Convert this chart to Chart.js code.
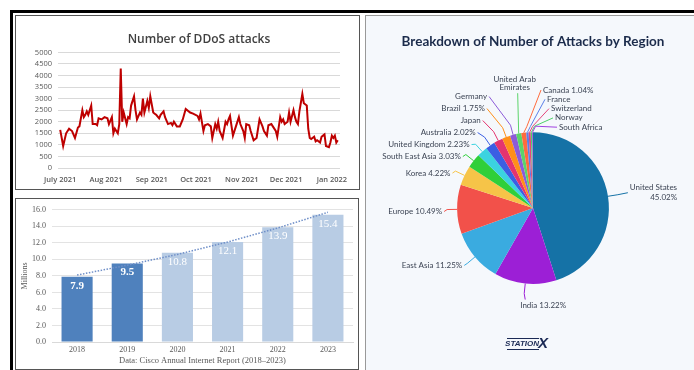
<!DOCTYPE html>
<html>
<head>
<meta charset="utf-8">
<script src="https://cdn.jsdelivr.net/npm/chart.js@4"></script>
<style>
  body { margin: 0; width: 694px; height: 370px; background: #fff; overflow: hidden; position: relative; }
  .frame { position: absolute; left: 10px; top: 10px; width: 700px; height: 380px; border-top: 3px solid #000; border-left: 3px solid #000; }
  .panel { position: absolute; box-sizing: border-box; border: 1px solid #555; background: #fff; }
  #boxA { left: 15px; top: 15px; width: 345px; height: 175px; }
  #boxB { left: 15px; top: 198px; width: 344px; height: 172px; }
  #boxC { left: 365px; top: 15px; width: 332px; height: 358px; background: #f5f8fc; border-color: #999; }
  canvas { position: absolute; left: 0; top: 0; }
</style>
</head>
<body>
<div class="frame"></div>
<div class="panel" id="boxA"><canvas id="ddosChart" width="343" height="173"></canvas></div>
<div class="panel" id="boxB"><canvas id="ciscoChart" width="342" height="170"></canvas></div>
<div class="panel" id="boxC"><canvas id="regionChart" width="330" height="356"></canvas></div>
<script>
// --- DDoS attacks per day (day 0 = 1 July 2021)
const days = [0,2,4,6,8,10,12,13,15,16,17,18,19,21,22,24,25,26,28,30,32,33,35,36,37,39,40,41,42,43,45,46,47,48,50,51,52,54,55,56,57,59,60,61,63,64,65,67,68,70,71,73,75,76,77,79,81,83,85,88,90,93,94,95,97,98,100,102,103,105,106,107,108,110,112,113,114,115,117,119,121,122,124,125,126,128,129,131,133,135,137,138,140,141,143,144,146,147,149,150,151,152,154,155,156,158,159,160,161,162,164,165,167,168,169,170,172,173,174,176,177,178,179,180,182,183,184,185,186,187,188]
const attacks = [1650,950,1500,1700,1600,1300,1750,1800,2500,2200,2300,2450,2300,2700,1900,1900,1850,2150,2100,2200,2150,1900,2200,1500,1700,1500,1900,4300,2000,2400,1900,2200,2150,2700,3100,2500,2100,2400,2300,3000,2400,2900,2600,3100,2400,2350,2300,2150,2300,2450,2200,1900,1950,1850,2000,1800,1800,2100,2550,2400,2350,2250,2100,2350,1600,1850,1900,1800,1300,1900,1700,2000,1600,1300,2000,1900,2100,2250,1400,1800,2200,1900,1600,1300,1900,1850,1600,1200,1300,2100,1800,1600,1400,1850,1900,1800,1600,1350,2200,2000,2100,1900,2000,2400,2000,2500,2200,2000,1900,2450,3200,2800,2700,1700,1300,1250,1350,1150,1200,1100,1350,1400,1450,950,900,1100,1400,1300,1400,1100,1200]
const monthDays = [0,31,62,92,123,153,184]
const monthLabels = ['July 2021','Aug 2021','Sep 2021','Oct 2021','Nov 2021','Dec 2021','Jan 2022']

// --- Cisco annual report: DDoS attacks, millions
const years = ['2018','2019','2020','2021','2022','2023']
const millions = [7.9, 9.5, 10.8, 12.1, 13.9, 15.4]
const trend = [8.1, 9.3, 10.6, 12.1, 13.8, 15.7]
const forecast = [false, false, true, true, true, true]

// --- Attacks by region, %
const regions = ['United States','India','East Asia','Europe','Korea','South East Asia','United Kingdom','Australia','Japan','Brazil','Germany','United Arab Emirates','Canada','France','Switzerland','Norway','South Africa']
const shares = [45.02,13.22,11.25,10.49,4.22,3.03,2.23,2.02,1.9,1.75,1.3,1.1,1.04,0.5,0.45,0.3,0.18]
const showPct = [true,true,true,true,true,true,true,true,false,true,false,false,true,false,false,false,false]
const sliceColors = ['#1572a6','#9c1fd6','#3aabe0','#f2514a','#f6c448','#2fcf3a','#3bd3e0','#3b5fe3','#e4346f','#ff8f1a','#8c5bd8','#5bd46a','#ff6b3d','#5a7fe8','#e4457a','#4fd16a','#a040e0']

Chart.defaults.animation = false
Chart.defaults.plugins.legend.display = false
Chart.defaults.plugins.tooltip.enabled = false

// line chart
new Chart(document.getElementById('ddosChart'), {
  type: 'line',
  data: {
    datasets: [{
      data: days.map((d, i) => ({ x: d, y: attacks[i] })),
      borderColor: '#be0000',
      borderWidth: 2,
      pointRadius: 0,
      tension: 0
    }]
  },
  options: {
    responsive: false,
    layout: { padding: { left: 0, right: 19, top: 0, bottom: 0 } },
    plugins: {
      title: {
        display: true,
        fullSize: false,
        text: 'Number of DDoS attacks',
        color: '#404040',
        font: { family: 'Open Sans', size: 12, weight: '600' },
        padding: { top: 16, bottom: 6 }
      }
    },
    scales: {
      x: {
        type: 'linear',
        min: -1.5,
        max: 189.5,
        afterBuildTicks: axis => { axis.ticks = monthDays.map(v => ({ value: v })) },
        ticks: {
          callback: (v, i) => monthLabels[i],
          autoSkip: false,
          maxRotation: 0,
          padding: 7,
          color: '#595959',
          font: { family: 'Open Sans', size: 7.5, weight: '600' }
        },
        grid: { display: false, drawTicks: false },
        border: { display: false },
        afterFit: axis => { axis.height = 21 }
      },
      y: {
        min: 0,
        max: 5000,
        ticks: { stepSize: 500, autoSkip: false, padding: 6, color: '#595959', font: { family: 'Open Sans', size: 7.5 }, callback: v => String(v) },
        grid: { color: '#d9d9d9', drawTicks: false },
        border: { display: false },
        afterFit: axis => { axis.width = 42 }
      }
    }
  }
})

// bar value labels
const barValues = {
  id: 'barValues',
  afterDatasetsDraw(chart) {
    const ctx = chart.ctx
    ctx.save()
    ctx.textAlign = 'center'
    ctx.textBaseline = 'middle'
    ctx.fillStyle = '#fff'
    chart.getDatasetMeta(0).data.forEach((bar, i) => {
      ctx.font = (forecast[i] ? '' : 'bold ') + '11px "Liberation Serif"'
      ctx.fillText(millions[i].toFixed(1), bar.x, bar.y + 9)
    })
    ctx.restore()
  }
}

new Chart(document.getElementById('ciscoChart'), {
  type: 'bar',
  data: {
    labels: years,
    datasets: [{
      type: 'bar',
      data: millions,
      backgroundColor: forecast.map(f => f ? '#b8cce4' : '#4f81bd'),
      categoryPercentage: 1,
      barPercentage: 0.62,
      order: 1
    }, {
      type: 'line',
      data: trend,
      borderColor: '#6f8fc8',
      borderWidth: 1.5,
      borderDash: [1.5, 1.5],
      pointRadius: 0,
      order: 0
    }]
  },
  options: {
    responsive: false,
    layout: { padding: { left: 0, right: 5, top: 8, bottom: 0 } },
    scales: {
      x: {
        ticks: { padding: 3, color: '#595959', font: { family: 'Liberation Serif', size: 8 } },
        grid: { display: false, drawTicks: false },
        border: { color: '#d9d9d9' },
        title: {
          display: true,
          text: 'Data: Cisco Annual Internet Report (2018–2023)',
          color: '#595959',
          font: { family: 'Liberation Serif', size: 8.5 },
          padding: { top: 2, bottom: 3 }
        },
        afterFit: axis => { axis.height = 27 }
      },
      y: {
        min: 0,
        max: 16,
        ticks: { stepSize: 2, padding: 6, color: '#595959', font: { family: 'Liberation Serif', size: 8 }, callback: v => v.toFixed(1) },
        grid: { color: '#e3e3e3', drawTicks: false },
        border: { display: false },
        title: {
          display: true,
          text: 'Millions',
          color: '#595959',
          font: { family: 'Liberation Serif', size: 8 },
          padding: { top: 4, bottom: 0 }
        },
        afterFit: axis => { axis.width = 36 }
      }
    }
  },
  plugins: [barValues]
})

// pie labels with connectors
const pieLabels = {
  id: 'pieLabels',
  afterDatasetsDraw(chart) {
    const ctx = chart.ctx
    const arcs = chart.getDatasetMeta(0).data
    const cx = arcs[0].x, cy = arcs[0].y, R = arcs[0].outerRadius
    const items = arcs.map((arc, i) => {
      const a = (arc.startAngle + arc.endAngle) / 2
      const deg = ((a * 180 / Math.PI + 90) % 360 + 360) % 360
      const dx = Math.cos(a), dy = Math.sin(a)
      return {
        i, deg,
        ex: cx + R * dx, ey: cy + R * dy,
        px: cx + (R + 10) * dx, py: cy + (R + 10) * dy,
        name: regions[i],
        text: showPct[i] ? regions[i] + ' ' + shares[i].toFixed(2) + '%' : regions[i],
        color: sliceColors[i]
      }
    })
    ctx.save()
    ctx.font = '8px Lato'
    ctx.fillStyle = '#3c4454'
    ctx.lineWidth = 1
    ctx.textBaseline = 'middle'
    const line = (pts, color) => {
      ctx.strokeStyle = color
      ctx.beginPath()
      ctx.moveTo(pts[0][0], pts[0][1])
      pts.slice(1).forEach(p => ctx.lineTo(p[0], p[1]))
      ctx.stroke()
    }

    // left side, stacked upwards
    const left = items.filter(it => it.deg > 200 && it.deg < 346.5).sort((a, b) => b.py - a.py)
    let prev = Infinity
    left.forEach(it => {
      const natural = it.py + 2
      const y = Math.min(natural, prev - 12)
      prev = y
      const lx = it.px - 3 - 0.6 * (natural - y)
      line([[it.ex, it.ey], [it.px, it.py], [lx, y]], it.color)
      ctx.textAlign = 'right'
      ctx.fillText(it.text, lx - 2, y)
    })

    // right side
    items.filter(it => it.deg <= 170).forEach(it => {
      const lx = it.px + 10
      const y = it.py - 2
      line([[it.ex, it.ey], [it.px, it.py], [lx, y]], it.color)
      const l1 = it.name, l2 = shares[it.i].toFixed(2) + '%'
      const w = Math.max(ctx.measureText(l1).width, ctx.measureText(l2).width)
      ctx.textAlign = 'right'
      ctx.fillText(l1, lx + 2 + w, y - 5)
      ctx.fillText(l2, lx + 2 + w, y + 5)
    })

    // bottom
    items.filter(it => it.deg > 170 && it.deg <= 200).forEach(it => {
      line([[it.ex, it.ey], [it.px, it.py], [it.px + 1, it.py + 6]], it.color)
      ctx.textAlign = 'left'
      ctx.fillText(it.text, it.px - 4, it.py + 12)
    })

    // top, centred two-line label
    items.filter(it => it.deg >= 346.5 && it.deg < 352).forEach(it => {
      const words = it.name.split(' ')
      const bottomY = cy - R - 45
      line([[it.ex, it.ey], [it.ex - 1, bottomY + 6]], it.color)
      ctx.textAlign = 'center'
      ctx.fillText(words.slice(0, -1).join(' '), it.ex - 4, bottomY - 8)
      ctx.fillText(words[words.length - 1], it.ex - 4, bottomY)
    })

    // tiny slices near the top, stacked to the right
    const tops = items.filter(it => it.deg >= 352).sort((a, b) => a.deg - b.deg)
    tops.forEach((it, k) => {
      const y = cy - R - 5 - (tops.length - 1 - k) * 9.3
      const tx = cx + 10 + 4 * k
      line([[it.ex, it.ey], [it.ex + 3, it.ey - 6], [tx - 2, y]], it.color)
      ctx.textAlign = 'left'
      ctx.fillText(it.text, tx, y)
    })

    // StationX logo
    const lx = cx, ly = chart.height - 28
    ctx.fillStyle = '#1b2a55'
    ctx.textAlign = 'right'
    ctx.font = 'italic bold 8px "Liberation Sans"'
    ctx.fillText('STATION', lx + 6, ly)
    ctx.fillRect(lx - 26, ly - 6, 32, 1)
    ctx.fillRect(lx - 26, ly + 5, 32, 1)
    ctx.textAlign = 'left'
    ctx.font = 'italic bold 15px "Liberation Sans"'
    ctx.fillText('X', lx + 5, ly)
    ctx.restore()
  }
}

new Chart(document.getElementById('regionChart'), {
  type: 'pie',
  data: {
    labels: regions,
    datasets: [{ data: shares, backgroundColor: sliceColors, borderWidth: 0 }]
  },
  options: {
    responsive: false,
    layout: { padding: { left: 4, right: 0, top: 0, bottom: 88 } },
    plugins: {
      title: {
        display: true,
        text: 'Breakdown of Number of Attacks by Region',
        color: '#1b2b4b',
        font: { family: 'Lato', size: 13.5, weight: 'bold' },
        padding: { top: 18, bottom: 82 }
      }
    }
  },
  plugins: [pieLabels]
})
</script>
</body>
</html>
